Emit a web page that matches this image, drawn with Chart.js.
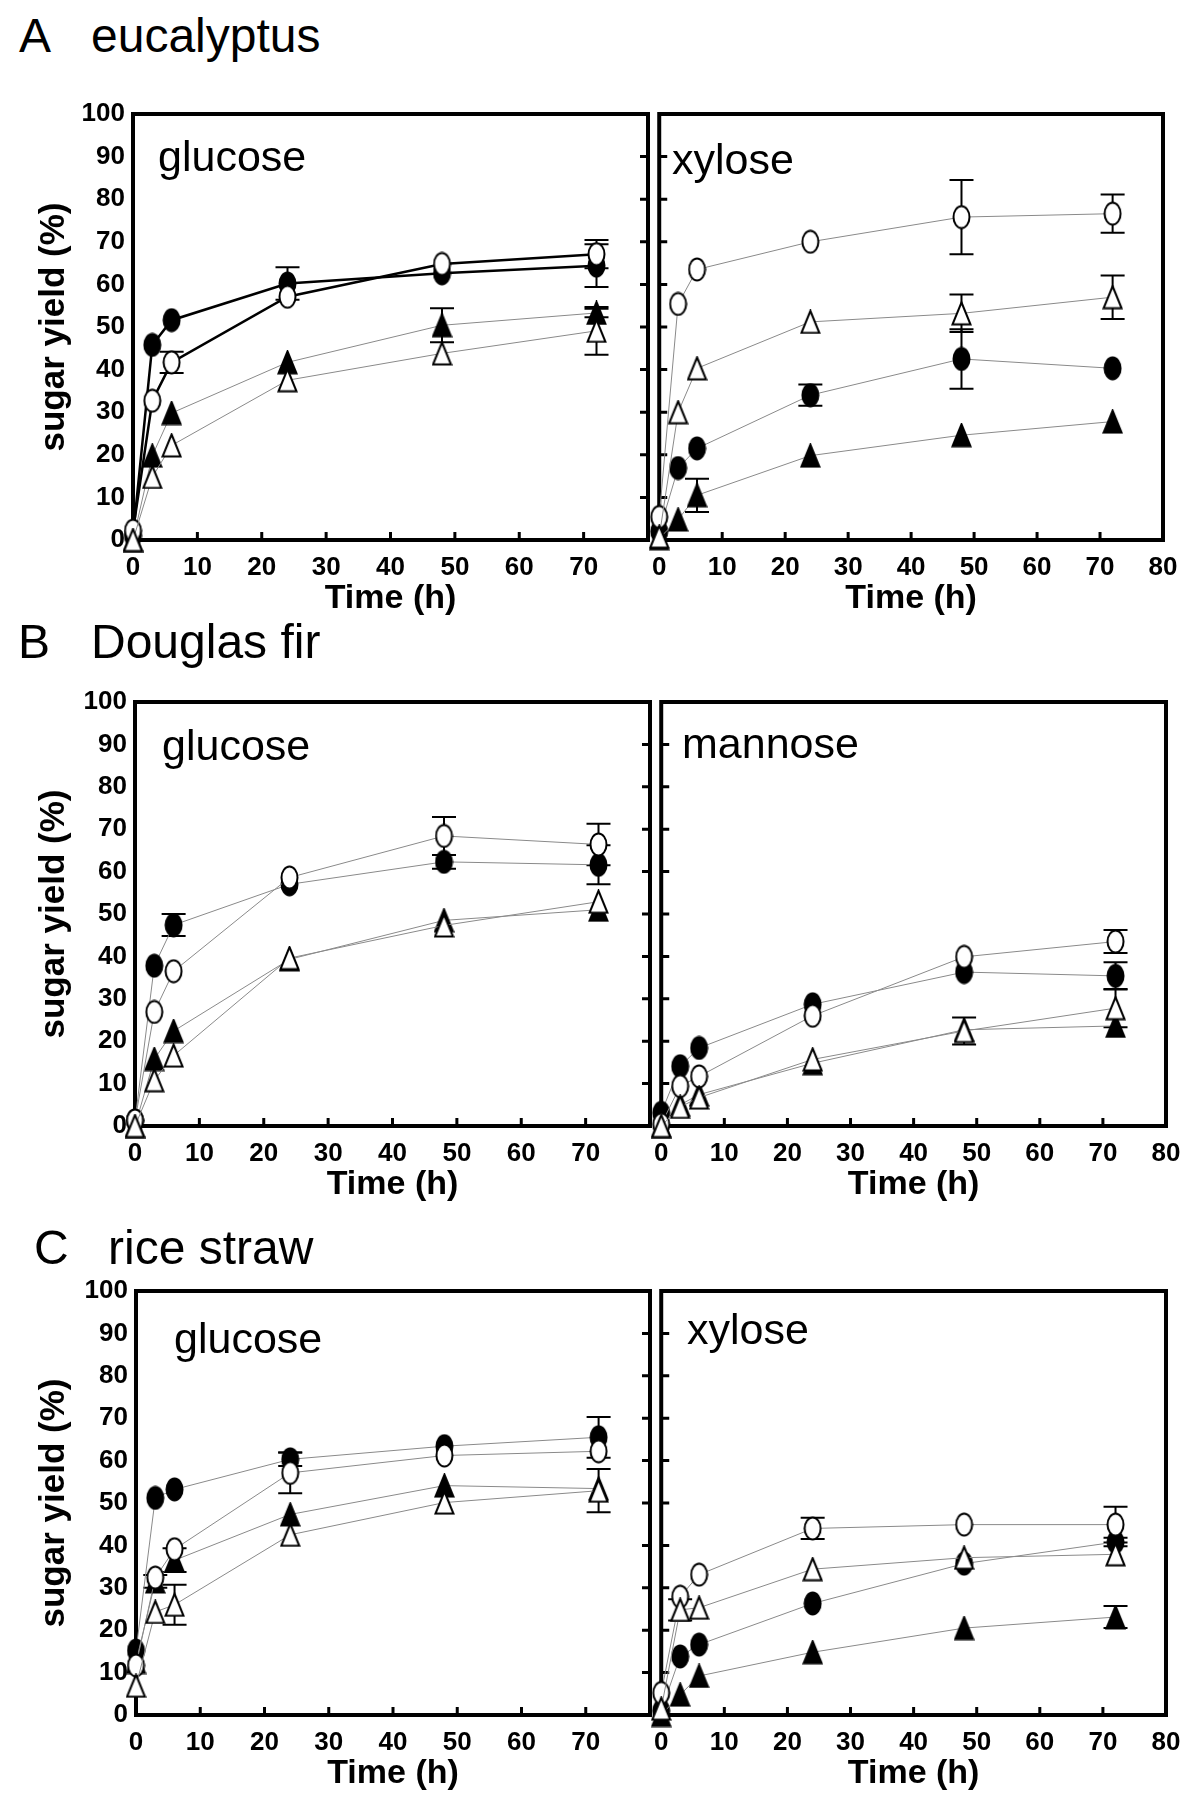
<!DOCTYPE html>
<html>
<head>
<meta charset="utf-8">
<script src="https://cdn.jsdelivr.net/npm/chart.js@4.4.1/dist/chart.umd.min.js"></script>
<style>
html, body { margin: 0; padding: 0; background: #fff; }
#page { position: relative; width: 1200px; height: 1802px; overflow: hidden; font-family: 'Liberation Sans', Arial, Helvetica, sans-serif; }
#page canvas { position: absolute; }
.txt { position: absolute; line-height: 1; white-space: nowrap; color: #000; }
</style>
</head>
<body>
<div id="page"></div>
<script>
// sampling times (h)
var hours = [0, 3, 6, 24, 48, 72];

// CC = filled circle, OC = open circle, CT = filled triangle, OT = open triangle
// A eucalyptus - glucose
var eucGlcCC = [1.0, 45.8, 51.6, 60.2, 62.6, 64.4];
var eucGlcOC = [2.2, 32.7, 41.7, 57.1, 64.8, 67.1];
var eucGlcCT = [0.0, 19.8, 29.8, 41.7, 50.4, 53.3];
var eucGlcOT = [0.0, 14.8, 22.2, 37.5, 43.8, 49.1];
var eucGlcCCerr = [0, 0, 0, 3.8, 0, 5.0];
var eucGlcOCerr = [0, 0, 2.5, 0, 0, 3.3];
var eucGlcCTerr = [0, 0, 0, 0, 4.0, 1.0];
var eucGlcOTerr = [0, 0, 0, 0, 0, 5.6];
// A eucalyptus - xylose
var eucXylCC = [2.0, 16.9, 21.5, 34.0, 42.5, 40.3];
var eucXylOC = [5.4, 55.4, 63.5, 70.0, 75.8, 76.6];
var eucXylCT = [0.4, 4.8, 10.5, 19.8, 24.6, 27.8];
var eucXylOT = [0.8, 30.0, 40.3, 51.2, 53.2, 57.0];
var eucXylCCerr = [0, 0, 0, 2.5, 7.0, 0];
var eucXylOCerr = [0, 0, 0, 0, 8.7, 4.5];
var eucXylCTerr = [0, 0, 3.9, 0, 0, 0];
var eucXylOTerr = [0, 0, 0, 0, 4.4, 5.1];
// B Douglas fir - glucose
var firGlcCC = [1.3, 37.8, 47.4, 57.0, 62.3, 61.6];
var firGlcOC = [1.3, 26.9, 36.5, 58.6, 68.4, 66.4];
var firGlcCT = [0.0, 15.8, 22.4, 39.3, 48.5, 51.0];
var firGlcOT = [0.0, 10.8, 16.6, 39.6, 47.3, 52.9];
var firGlcCCerr = [0, 0, 2.6, 0, 1.6, 4.6];
var firGlcOCerr = [0, 0, 0, 0, 4.5, 4.9];
var firGlcCTerr = [0, 0, 0, 0, 0, 0];
var firGlcOTerr = [0, 0, 0, 0, 0, 0];
// B Douglas fir - mannose
var firManCC = [3.1, 14.1, 18.4, 28.7, 36.3, 35.4];
var firManOC = [0.4, 9.4, 11.7, 26.0, 39.9, 43.5];
var firManCT = [0.0, 5.0, 7.4, 14.8, 22.7, 23.6];
var firManOT = [0.0, 4.5, 6.7, 15.7, 22.4, 27.8];
var firManCCerr = [0, 0, 0, 0, 0, 3.2];
var firManOCerr = [0, 0, 0, 0, 0, 2.7];
var firManCTerr = [0, 0, 0, 0, 0, 0];
var firManOTerr = [0, 0, 0, 0, 3.2, 4.5];
// C rice straw - glucose
var riceGlcCC = [15.2, 51.2, 53.2, 60.3, 63.4, 65.5];
var riceGlcOC = [11.7, 32.4, 39.1, 57.1, 61.2, 62.2];
var riceGlcCT = [12.5, 31.5, 36.5, 47.3, 54.1, 53.4];
var riceGlcOT = [6.9, 24.3, 26.0, 42.5, 50.1, 52.9];
var riceGlcCCerr = [0, 0, 0, 1.6, 0, 4.8];
var riceGlcOCerr = [0, 0, 0, 4.8, 0, 0];
var riceGlcCTerr = [0, 1.5, 2.8, 0, 0, 0];
var riceGlcOTerr = [0, 0, 4.7, 0, 0, 5.1];
// C rice straw - xylose
var riceXylCC = [1.0, 13.8, 16.6, 26.3, 35.7, 40.8];
var riceXylOC = [5.2, 27.9, 33.1, 44.0, 44.9, 44.9];
var riceXylCT = [0.0, 4.8, 9.2, 14.8, 20.5, 23.1];
var riceXylOT = [1.5, 24.8, 25.3, 34.4, 37.1, 37.9];
var riceXylCCerr = [0, 0, 0, 0, 0, 1.0];
var riceXylOCerr = [0, 0, 0, 2.5, 0, 4.2];
var riceXylCTerr = [0, 0, 0, 0, 0, 2.6];
var riceXylOTerr = [0, 2.5, 0, 0, 0, 0];

var xTicksMax = 80;
var yTicksMax = 100;

Chart.defaults.font.family = "'Liberation Sans', Arial, Helvetica, sans-serif";
Chart.defaults.color = '#000';

var page = document.getElementById('page');

// plot boxes for each row (pixels)
var rows = [
    {top: 114, bottom: 540, left: 133, mid: 650, right: 1163},
    {top: 702, bottom: 1126, left: 135, mid: 652, right: 1166},
    {top: 1291, bottom: 1715, left: 136, mid: 652, right: 1166}
];

function makeMarker(kind) {
    var c = document.createElement('canvas');
    var circle = kind.indexOf('Circle') >= 0;
    var w = circle ? 19 : 21, h = 25;
    c.width = w; c.height = h;
    var g = c.getContext('2d');
    g.lineWidth = 2;
    g.strokeStyle = '#000';
    g.fillStyle = kind.indexOf('open') == 0 ? '#fff' : '#000';
    g.beginPath();
    if (circle) {
        g.ellipse(w / 2, h / 2, 8, 11, 0, 0, Math.PI * 2);
    } else {
        g.moveTo(w / 2, 1.5);
        g.lineTo(w - 1.5, h - 1.5);
        g.lineTo(1.5, h - 1.5);
        g.closePath();
    }
    g.fill();
    g.stroke();
    return c;
}

var markers = {
    CC: makeMarker('filledCircle'),
    OC: makeMarker('openCircle'),
    CT: makeMarker('filledTriangle'),
    OT: makeMarker('openTriangle')
};

var thin = {color: '#8a8a8a', width: 1};
var thick = {color: '#000', width: 2.5};

function series(vals, errs, marker, line) {
    return {
        data: hours.map(function(h, i) { return {x: h, y: vals[i]}; }),
        errors: errs,
        pointStyle: markers[marker],
        pointRadius: 8,
        borderColor: line.color,
        borderWidth: line.width,
        fill: false,
        tension: 0,
        clip: false
    };
}

// open symbols on top (dataset 0 is drawn last)
function panel(cc, oc, ct, ot, ccE, ocE, ctE, otE, circleLine) {
    return [
        series(ot, otE, 'OT', thin),
        series(oc, ocE, 'OC', circleLine),
        series(ct, ctE, 'CT', thin),
        series(cc, ccE, 'CC', circleLine)
    ];
}

var framePlugin = {
    id: 'frame',
    beforeDatasetsDraw: function(chart) {
        var ctx = chart.ctx, a = chart.chartArea;
        var xs = chart.scales.x, ys = chart.scales.y;
        var side = chart.options.plugins.frame.side;
        ctx.save();
        ctx.strokeStyle = '#000';
        ctx.lineWidth = 4;
        ctx.strokeRect(a.left, a.top, a.right - a.left, a.bottom - a.top);
        ctx.lineWidth = 3;
        ctx.beginPath();
        xs.ticks.forEach(function(t) {
            if (t.value > xs.min && t.value < xs.max) {
                var px = xs.getPixelForValue(t.value);
                ctx.moveTo(px, a.bottom);
                ctx.lineTo(px, a.bottom - 8);
            }
        });
        ys.ticks.forEach(function(t) {
            if (t.value > ys.min && t.value < ys.max) {
                var py = ys.getPixelForValue(t.value);
                if (side == 'left') {
                    ctx.moveTo(a.right, py); ctx.lineTo(a.right - 8, py);
                } else {
                    ctx.moveTo(a.left, py); ctx.lineTo(a.left + 8, py);
                }
            }
        });
        ctx.stroke();
        // error bars, under the symbols
        ctx.lineWidth = 2;
        chart.data.datasets.forEach(function(ds) {
            ds.errors.forEach(function(e, i) {
                if (!e) return;
                var px = xs.getPixelForValue(ds.data[i].x);
                var hi = ys.getPixelForValue(ds.data[i].y + e);
                var lo = ys.getPixelForValue(ds.data[i].y - e);
                ctx.beginPath();
                ctx.moveTo(px, hi); ctx.lineTo(px, lo);
                ctx.moveTo(px - 12, hi); ctx.lineTo(px + 12, hi);
                ctx.moveTo(px - 12, lo); ctx.lineTo(px + 12, lo);
                ctx.stroke();
            });
        });
        ctx.restore();
    }
};

function makeChart(row, side, datasets) {
    var padTop = 30, below = 90;
    var x0 = side == 'left' ? 0 : row.mid - 10;
    var x1 = side == 'left' ? row.mid + 10 : 1200;
    var cv = document.createElement('canvas');
    cv.width = x1 - x0;
    cv.height = row.bottom - row.top + padTop + below;
    cv.style.left = x0 + 'px';
    cv.style.top = (row.top - padTop) + 'px';
    cv.style.width = cv.width + 'px';
    cv.style.height = cv.height + 'px';
    page.appendChild(cv);
    return new Chart(cv, {
        type: 'line',
        data: {datasets: datasets},
        options: {
            responsive: false,
            animation: false,
            devicePixelRatio: 1,
            layout: {
                autoPadding: false,
                padding: {top: padTop, bottom: 0, left: side == 'left' ? 0 : 10, right: side == 'left' ? 10 : 1200 - row.right}
            },
            plugins: {legend: {display: false}, tooltip: {enabled: false}, frame: {side: side}},
            scales: {
                x: {
                    type: 'linear', min: 0, max: xTicksMax,
                    ticks: {
                        stepSize: 10, autoSkip: false, maxRotation: 0, padding: 12,
                        font: {size: 26, weight: 'bold'},
                        callback: function(v) { return (side == 'left' && v >= xTicksMax) ? '' : v; }
                    },
                    grid: {display: false, drawTicks: false},
                    border: {display: false},
                    title: {display: true, text: 'Time (h)', font: {size: 34, weight: 'bold'}, padding: {top: 0, bottom: 11}},
                    afterFit: function(s) { s.height = below; }
                },
                y: {
                    min: 0, max: yTicksMax,
                    ticks: {stepSize: 10, display: side == 'left', padding: 8, font: {size: 26, weight: 'bold'}},
                    grid: {display: false, drawTicks: false},
                    border: {display: false},
                    title: {display: side == 'left', text: 'sugar yield (%)', font: {size: 35, weight: 'bold'}, padding: {top: 33, bottom: 0}},
                    afterFit: function(s) { s.width = side == 'left' ? row.left : 0; }
                }
            }
        },
        plugins: [framePlugin]
    });
}

function addText(str, left, baseline, size) {
    var d = document.createElement('div');
    d.className = 'txt';
    d.textContent = str;
    d.style.fontSize = size + 'px';
    d.style.left = left + 'px';
    d.style.top = (baseline - 0.8465 * size) + 'px';
    page.appendChild(d);
}

makeChart(rows[0], 'left', panel(eucGlcCC, eucGlcOC, eucGlcCT, eucGlcOT, eucGlcCCerr, eucGlcOCerr, eucGlcCTerr, eucGlcOTerr, thick));
makeChart(rows[0], 'right', panel(eucXylCC, eucXylOC, eucXylCT, eucXylOT, eucXylCCerr, eucXylOCerr, eucXylCTerr, eucXylOTerr, thin));
makeChart(rows[1], 'left', panel(firGlcCC, firGlcOC, firGlcCT, firGlcOT, firGlcCCerr, firGlcOCerr, firGlcCTerr, firGlcOTerr, thin));
makeChart(rows[1], 'right', panel(firManCC, firManOC, firManCT, firManOT, firManCCerr, firManOCerr, firManCTerr, firManOTerr, thin));
makeChart(rows[2], 'left', panel(riceGlcCC, riceGlcOC, riceGlcCT, riceGlcOT, riceGlcCCerr, riceGlcOCerr, riceGlcCTerr, riceGlcOTerr, thin));
makeChart(rows[2], 'right', panel(riceXylCC, riceXylOC, riceXylCT, riceXylOT, riceXylCCerr, riceXylOCerr, riceXylCTerr, riceXylOTerr, thin));

// panel titles
addText('A', 19, 53, 48);
addText('eucalyptus', 91, 53, 48);
addText('B', 18, 659, 48);
addText('Douglas fir', 91, 659, 48);
addText('C', 34, 1265, 48);
addText('rice straw', 108, 1265, 48);

// sugar names inside the plots
addText('glucose', 158, 171, 43);
addText('xylose', 672, 174, 43);
addText('glucose', 162, 760, 43);
addText('mannose', 682, 758, 43);
addText('glucose', 174, 1353, 43);
addText('xylose', 687, 1344, 43);
</script>
</body>
</html>
